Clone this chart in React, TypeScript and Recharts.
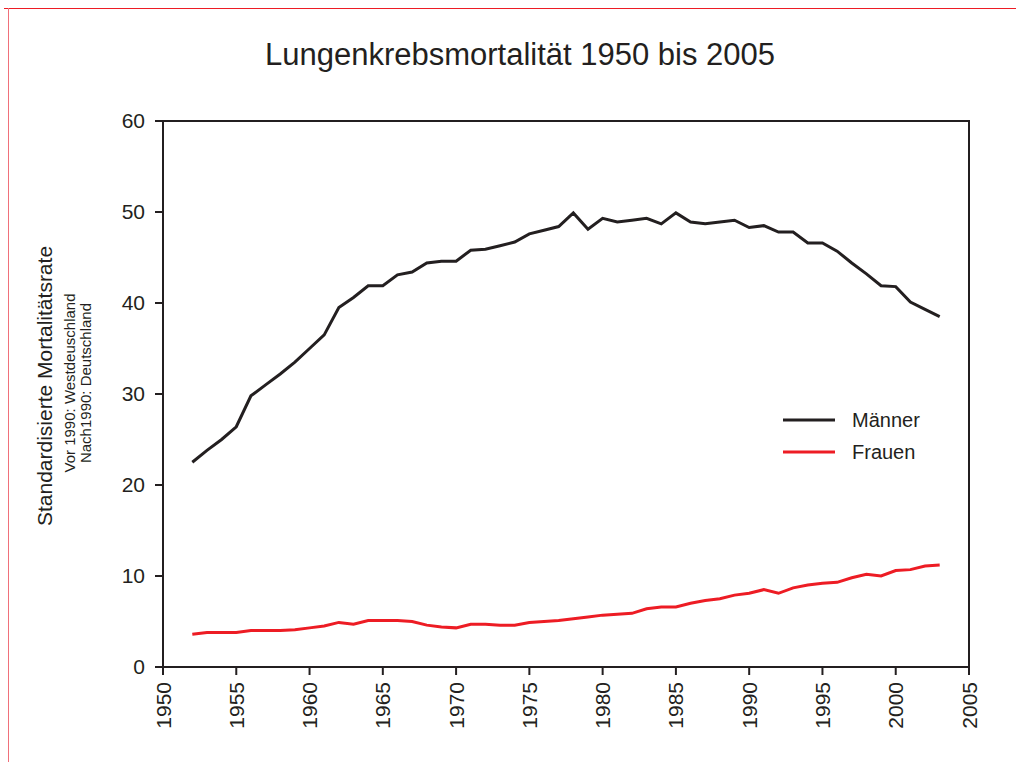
import { LineChart, Line, XAxis, YAxis, ReferenceArea } from 'recharts';

// Jahre und Raten (je 100.000)
const years = [
  1952, 1953, 1954, 1955, 1956, 1957, 1958, 1959, 1960, 1961,
  1962, 1963, 1964, 1965, 1966, 1967, 1968, 1969, 1970, 1971,
  1972, 1973, 1974, 1975, 1976, 1977, 1978, 1979, 1980, 1981,
  1982, 1983, 1984, 1985, 1986, 1987, 1988, 1989, 1990, 1991,
  1992, 1993, 1994, 1995, 1996, 1997, 1998, 1999, 2000, 2001,
  2002, 2003,
];

const maenner = [
  22.5, 23.8, 25.0, 26.4, 29.8, 31.0, 32.2, 33.5, 35.0, 36.5,
  39.5, 40.6, 41.9, 41.9, 43.1, 43.4, 44.4, 44.6, 44.6, 45.8,
  45.9, 46.3, 46.7, 47.6, 48.0, 48.4, 49.9, 48.1, 49.3, 48.9,
  49.1, 49.3, 48.7, 49.9, 48.9, 48.7, 48.9, 49.1, 48.3, 48.5,
  47.8, 47.8, 46.6, 46.6, 45.7, 44.4, 43.2, 41.9, 41.8, 40.1,
  39.3, 38.5,
];

const frauen = [
  3.6, 3.8, 3.8, 3.8, 4.0, 4.0, 4.0, 4.1, 4.3, 4.5,
  4.9, 4.7, 5.1, 5.1, 5.1, 5.0, 4.6, 4.4, 4.3, 4.7,
  4.7, 4.6, 4.6, 4.9, 5.0, 5.1, 5.3, 5.5, 5.7, 5.8,
  5.9, 6.4, 6.6, 6.6, 7.0, 7.3, 7.5, 7.9, 8.1, 8.5,
  8.1, 8.7, 9.0, 9.2, 9.3, 9.8, 10.2, 10.0, 10.6, 10.7,
  11.1, 11.2,
];

const xTicks = [1950, 1955, 1960, 1965, 1970, 1975, 1980, 1985, 1990, 1995, 2000, 2005];
const yTicks = [0, 10, 20, 30, 40, 50, 60];

const data = years.map((year, i) => ({ year, maenner: maenner[i], frauen: frauen[i] }));

const FONT = "'Liberation Sans', Arial, Helvetica, sans-serif";
const INK = '#231f20';
const RED = '#ed1c24';

// Jahreszahlen senkrecht, von unten nach oben lesbar
const YearTick = ({ x, y, payload }: any) => {
  const ty = y + 5;
  return (
    <text
      x={x}
      y={ty}
      transform={`rotate(-90 ${x} ${ty})`}
      textAnchor="end"
      dy="0.36em"
      fontSize={21}
      fontFamily={FONT}
      fill={INK}
    >
      {payload.value}
    </text>
  );
};

export default function App() {
  return (
    <div
      style={{
        position: 'absolute',
        left: 0,
        top: 0,
        width: 1016,
        height: 762,
        background: '#fff',
        fontFamily: FONT,
      }}
    >
      <LineChart
        width={1016}
        height={762}
        data={data}
        margin={{ top: 121, right: 47, left: 103, bottom: 35 }}
      >
        <XAxis
          dataKey="year"
          type="number"
          domain={[1950, 2005]}
          ticks={xTicks}
          tick={<YearTick />}
          tickSize={8}
          height={60}
          axisLine={{ stroke: INK, strokeWidth: 2 }}
          tickLine={{ stroke: INK, strokeWidth: 2 }}
          interval={0}
        />
        <YAxis
          type="number"
          domain={[0, 60]}
          ticks={yTicks}
          width={60}
          tickSize={8}
          tickMargin={10}
          axisLine={{ stroke: INK, strokeWidth: 2 }}
          tickLine={{ stroke: INK, strokeWidth: 2 }}
          tick={{ fontSize: 21, fill: INK, fontFamily: FONT }}
          interval={0}
        />
        <ReferenceArea
          x1={1950}
          x2={2005}
          y1={0}
          y2={60}
          fill="none"
          stroke={INK}
          strokeWidth={2}
          ifOverflow="visible"
        />
        <Line
          type="linear"
          dataKey="maenner"
          stroke={INK}
          strokeWidth={3}
          dot={false}
          isAnimationActive={false}
        />
        <Line
          type="linear"
          dataKey="frauen"
          stroke={RED}
          strokeWidth={3}
          dot={false}
          isAnimationActive={false}
        />
      </LineChart>

      <svg
        width={1016}
        height={762}
        style={{ position: 'absolute', left: 0, top: 0, pointerEvents: 'none' }}
      >
        {/* roter Rahmen der Seite */}
        <line x1={4} y1={8.5} x2={1016} y2={8.5} stroke={RED} strokeWidth={1} />
        <line x1={8.5} y1={8} x2={8.5} y2={762} stroke="#f0707a" strokeWidth={1} />

        <text x={520} y={65} textAnchor="middle" fontSize={31} fill={INK} fontFamily={FONT}>
          Lungenkrebsmortalität 1950 bis 2005
        </text>

        <text
          x={45}
          y={386}
          transform="rotate(-90 45 386)"
          textAnchor="middle"
          dy="0.35em"
          fontSize={21}
          fill={INK}
          fontFamily={FONT}
        >
          Standardisierte Mortalitätsrate
        </text>
        <text
          x={70}
          y={383}
          transform="rotate(-90 70 383)"
          textAnchor="middle"
          dy="0.35em"
          fontSize={15}
          fill={INK}
          fontFamily={FONT}
        >
          Vor 1990: Westdeuschland
        </text>
        <text
          x={86}
          y={383}
          transform="rotate(-90 86 383)"
          textAnchor="middle"
          dy="0.35em"
          fontSize={15}
          fill={INK}
          fontFamily={FONT}
        >
          Nach1990: Deutschland
        </text>

        {/* Legende */}
        <line x1={783} y1={420} x2={835} y2={420} stroke={INK} strokeWidth={3} />
        <text x={852} y={427} fontSize={20} fill={INK} fontFamily={FONT}>
          Männer
        </text>
        <line x1={783} y1={452} x2={835} y2={452} stroke={RED} strokeWidth={3} />
        <text x={852} y={459} fontSize={20} fill={INK} fontFamily={FONT}>
          Frauen
        </text>
      </svg>
    </div>
  );
}
